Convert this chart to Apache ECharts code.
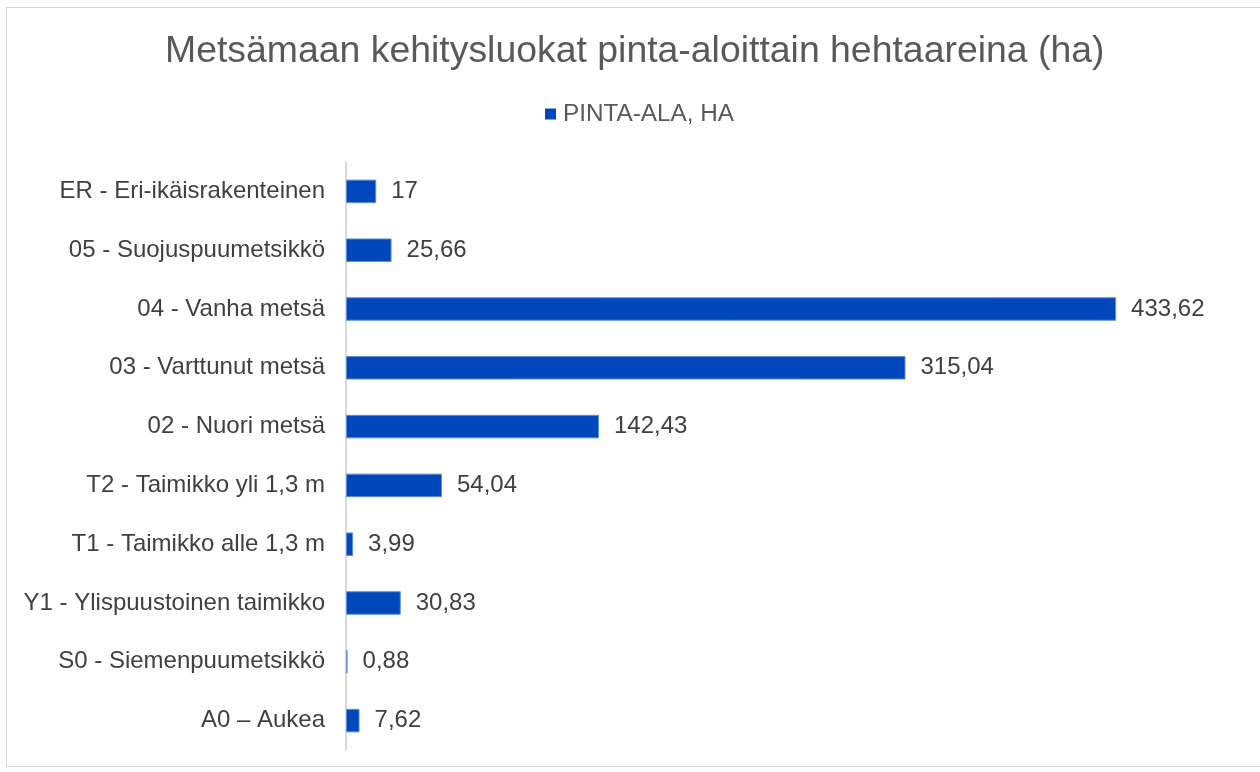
<!DOCTYPE html>
<html>
<head>
<meta charset="utf-8">
<script src="https://cdn.jsdelivr.net/npm/echarts@6/dist/echarts.min.js"></script>
<style>
  html, body { margin: 0; padding: 0; background: #fff; }
  .frame {
    position: absolute; left: 6px; top: 7px;
    width: 1260px; height: 760px;
    border: 1px solid #d9d9d9; box-sizing: border-box;
  }
  #chart { position: absolute; left: 0; top: 0; width: 1260px; height: 772px; }
</style>
</head>
<body>
<div class="frame"></div>
<div id="chart"></div>
<script>
  // kehitysluokat ylhäältä alas
  const categories = [
    'ER - Eri-ikäisrakenteinen',
    '05 - Suojuspuumetsikkö',
    '04 - Vanha metsä',
    '03 - Varttunut metsä',
    '02 - Nuori metsä',
    'T2 - Taimikko yli 1,3 m',
    'T1 - Taimikko alle 1,3 m',
    'Y1 - Ylispuustoinen taimikko',
    'S0 - Siemenpuumetsikkö',
    'A0 – Aukea'
  ]
  const pintaAla = [17, 25.66, 433.62, 315.04, 142.43, 54.04, 3.99, 30.83, 0.88, 7.62]
  const seriesName = 'PINTA-ALA, HA'

  const chart = echarts.init(document.getElementById('chart'))
  const font = '"Liberation Sans", Arial, sans-serif'

  const options = {
    textStyle: { fontFamily: font },
    title: {
      text: 'Metsämaan kehitysluokat pinta-aloittain hehtaareina (ha)',
      left: 160,
      top: 28,
      textStyle: { fontFamily: font, fontSize: 37.4, fontWeight: 'normal', color: '#595959' }
    },
    legend: {
      data: [seriesName],
      top: 97,
      left: 540,
      icon: 'rect',
      itemWidth: 11,
      itemHeight: 11,
      itemStyle: { borderWidth: 0 },
      textStyle: { fontFamily: font, fontSize: 24.3, color: '#595959', padding: [0, 0, 0, 2] }
    },
    grid: {
      left: 346,
      right: 26,
      top: 162,
      bottom: 22,
      containLabel: false
    },
    xAxis: {
      type: 'value',
      min: 0,
      max: 500,
      show: false,
      splitLine: { show: false }
    },
    yAxis: {
      type: 'category',
      inverse: true,
      data: categories,
      axisTick: { show: false },
      axisLine: { lineStyle: { color: '#d9d9d9', width: 2 } },
      axisLabel: { fontFamily: font, fontSize: 24, color: '#404040', margin: 21 }
    },
    series: [{
      name: seriesName,
      type: 'bar',
      data: pintaAla,
      barWidth: '40%',
      itemStyle: { color: '#0047bb', borderColor: '#5f8fd6', borderWidth: 1 },
      label: {
        show: true,
        position: 'right',
        distance: 15,
        fontFamily: font,
        fontSize: 24,
        color: '#404040',
        formatter: p => String(p.value).replace('.', ',')
      }
    }]
  }

  chart.setOption(options, true)
</script>
</body>
</html>
